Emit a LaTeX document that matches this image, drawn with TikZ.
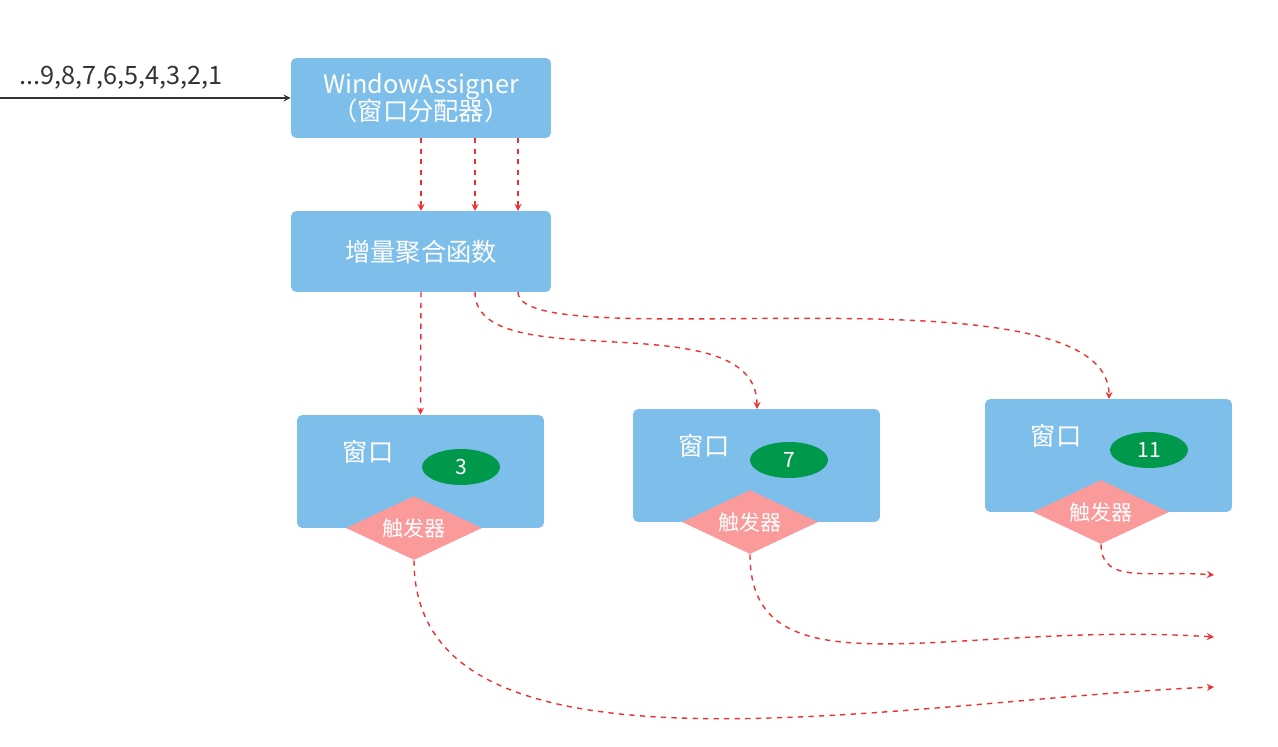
\documentclass[tikz,border=0pt]{standalone}
\usepackage{fontspec}
\setmainfont{Noto Sans CJK SC}
\usetikzlibrary{arrows,shapes,positioning}
\definecolor{boxblue}{HTML}{7DBFEA}
\definecolor{tgreen}{HTML}{00994C}
\definecolor{tpink}{HTML}{FA9A9A}
\definecolor{dred}{HTML}{F03030}
\begin{document}
\begin{tikzpicture}[x=0.02cm,y=-0.02cm,
  box/.style={fill=boxblue, rounded corners=3pt, text=white, inner sep=0pt},
  cnt/.style={ellipse, fill=tgreen, text=white, minimum width=1.56cm, minimum height=0.72cm, inner sep=0pt, font=\large},
  trig/.style={diamond, fill=tpink, text=white, minimum width=2.72cm, minimum height=1.28cm, inner sep=0pt, aspect=2.1, font=\large},
  flow/.style={->, >=stealth, dred, dashed, thick}]
\useasboundingbox (0,0) rectangle (1278,747);
\node[box, minimum width=5.2cm, minimum height=1.6cm, align=center, font=\Large] (assigner) at (421,98) {WindowAssigner\\[-3pt]（窗口分配器）};
\node[box, minimum width=5.2cm, minimum height=1.62cm, font=\Large] (agg) at (421,251.5) {增量聚合函数};
\coordinate (src) at (0,98);
\draw[->, >=stealth, thick, black!80] (src) -- (assigner.west);
\node[text=black!80, font=\Large] (seq) at (121,78) {...9,8,7,6,5,4,3,2,1};
% windows
\node[box, minimum width=4.94cm, minimum height=2.26cm] (win1) at (420.5,471.5) {};
\node[box, minimum width=4.94cm, minimum height=2.26cm] (win2) at (756.5,465.5) {};
\node[box, minimum width=4.94cm, minimum height=2.26cm] (win3) at (1108.5,455.5) {};
\node[text=white, font=\Large] (lab1) at (368,452) {窗口};
\node[text=white, font=\Large] (lab2) at (704,446) {窗口};
\node[text=white, font=\Large] (lab3) at (1056,436) {窗口};
\node[cnt] (c1) at (461,467) {3};
\node[cnt] (c2) at (789,460) {7};
\node[cnt] (c3) at (1149,450) {11};
\node[trig] (t1) at (414,528) {触发器};
\node[trig] (t2) at (750,522) {触发器};
\node[trig] (t3) at (1101,512) {触发器};
\coordinate (o1) at (1214,687);
\coordinate (o2) at (1214,637);
\coordinate (o3) at (1214,575);
% dashed flows
\foreach \x in {421,475,518}
  \draw[flow] (\x,138) -- (\x,211);
\draw[flow] (421,292) -- (win1.north);
\draw[flow] (475,292) .. controls (475,380) and (757,300) .. (757,409);
\draw[flow] (518,292) .. controls (518,360) and (1109,260) .. (1109,399);
\draw[flow] (t1.south) .. controls (414,800) and (900,700) .. (o1);
\draw[flow] (t2.south) .. controls (750,700) and (950,620) .. (o2);
\draw[flow] (t3.south) .. controls (1101,585) and (1150,570) .. (o3);
\end{tikzpicture}
\end{document}
